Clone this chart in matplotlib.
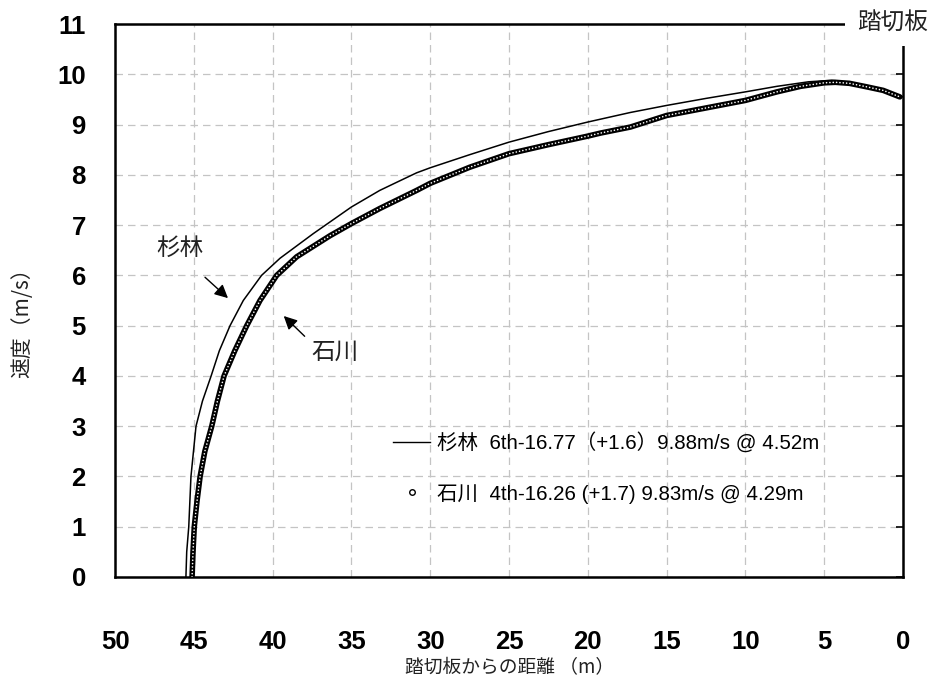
import matplotlib
matplotlib.use("Agg")
import matplotlib.pyplot as plt
from matplotlib.lines import Line2D
from matplotlib.font_manager import FontProperties

# ---------------- data ----------------
sugi_dist = [45.50, 45.45, 45.32, 45.18, 44.86, 44.45, 43.90, 43.38, 42.70, 41.86,
             40.70, 39.53, 37.42, 35.00, 33.20, 32.00, 30.86, 30.00, 27.50, 25.00,
             22.50, 20.00, 17.30, 15.00, 12.50, 10.00, 8.00, 6.00, 4.52, 3.40,
             2.30, 1.26, 0.00]
sugi_speed = [0.00, 0.50, 1.00, 2.00, 3.00, 3.50, 4.00, 4.50, 5.00, 5.50,
              6.00, 6.34, 6.83, 7.36, 7.69, 7.87, 8.04, 8.14, 8.40, 8.65,
              8.86, 9.05, 9.24, 9.38, 9.52, 9.65, 9.76, 9.85, 9.88, 9.84,
              9.76, 9.68, 9.55]

ishi_dist = [45.11, 45.05, 44.97, 44.80, 44.60, 44.30, 43.86, 43.50, 43.08, 42.40,
             41.64, 40.80, 39.74, 38.47, 36.35, 35.00, 33.20, 30.86, 30.00, 27.50,
             25.00, 22.50, 20.00, 19.20, 17.30, 15.00, 12.50, 10.00, 8.00, 6.50,
             5.00, 4.29, 3.40, 2.30, 1.26, 0.20]
ishi_speed = [0.00, 0.50, 1.00, 1.50, 2.00, 2.50, 3.00, 3.50, 4.00, 4.50,
              5.00, 5.50, 6.00, 6.37, 6.79, 7.03, 7.33, 7.69, 7.83, 8.15,
              8.42, 8.60, 8.77, 8.83, 8.95, 9.18, 9.33, 9.48, 9.65, 9.76,
              9.83, 9.84, 9.82, 9.75, 9.68, 9.55]

x_ticks = [50, 45, 40, 35, 30, 25, 20, 15, 10, 5, 0]
y_ticks = list(range(0, 12))

label_sugi = "杉林  6th-16.77（+1.6）9.88m/s @ 4.52m"
label_ishi = "石川  4th-16.26 (+1.7) 9.83m/s @ 4.29m"

# ---------------- figure ----------------
cjk = ['Noto Sans CJK JP', 'DejaVu Sans']
mixed = ['Liberation Sans', 'Noto Sans CJK JP']
plt.rcParams['font.family'] = cjk

fig = plt.figure(figsize=(9.33, 6.82), dpi=100)
ax = fig.add_axes([115/933, 1-577/682, 788/933, 553/682])

ax.set_xlim(50, 0)
ax.set_ylim(0, 11)
ax.set_xticks(x_ticks)
ax.set_yticks(y_ticks)
ax.set_xticklabels([str(t) for t in x_ticks])
ax.set_yticklabels([str(t) for t in y_ticks])
for lab in ax.get_xticklabels() + ax.get_yticklabels():
    lab.set_fontfamily('Liberation Sans')
    lab.set_fontweight('bold')
    lab.set_fontsize(18.5)
ax.tick_params(axis='x', length=0, pad=38)
ax.tick_params(axis='y', which='both', left=False, right=True, direction='in',
               length=5, width=1.2, pad=21)

ax.grid(True, color='#c4c4c4', linestyle=(0, (6, 4)), linewidth=0.9)
ax.set_axisbelow(True)
for s in ax.spines.values():
    s.set_linewidth(1.8)
    s.set_color('black')

# Sugibayashi: thin line
ax.plot(sugi_dist, sugi_speed, color='black', lw=1.1, zorder=3)

# Ishikawa: chain of small open circles
ax.plot(ishi_dist, ishi_speed, color='black', lw=4.0, solid_capstyle='round',
        solid_joinstyle='round', zorder=4)
ax.plot(ishi_dist, ishi_speed, color='white', lw=1.2,
        linestyle=(0, (0.01, 2.0)), dash_capstyle='round', zorder=5)

# annotations
ax.annotate('', xy=(42.70, 5.51), xytext=(44.42, 6.00),
            arrowprops=dict(arrowstyle='-|>', color='black', lw=1.0,
                            mutation_scale=20))
ax.text(45.9, 6.54, '杉林', fontsize=17, ha='center', va='center', color='#222222')
ax.annotate('', xy=(39.42, 5.23), xytext=(37.84, 4.75),
            arrowprops=dict(arrowstyle='-|>', color='black', lw=1.0,
                            mutation_scale=20))
ax.text(36.04, 4.47, '石川', fontsize=17, ha='center', va='center', color='#222222')

# legend
handles = [Line2D([], [], color='black', lw=1.0),
           Line2D([], [], color='black', marker='o', mfc='white', mec='black',
                  mew=1.0, ms=4, ls='none')]
leg = ax.legend(handles, [label_sugi, label_ishi], loc='upper left',
                bbox_to_anchor=(0.353, 0.262), frameon=False,
                prop=FontProperties(family=mixed, size=14.8),
                handlelength=1.8, handletextpad=0.35, labelspacing=1.5,
                borderaxespad=0, borderpad=0)

# take-off board label over the corner
fig.text(892/933, 1-23/682, '踏切板', fontsize=17, ha='center', va='center',
         color='#222222',
         bbox=dict(boxstyle='square,pad=0.5', fc='white', ec='none'), zorder=10)

fig.text(510/933, 1-668/682, '踏切板からの距離 （m）', fontsize=13.5,
         ha='center', va='center', color='#222222')
fig.text(22/933, 1-318/682, '速度（m/s）', fontsize=15, rotation=90,
         ha='center', va='center', color='#222222')

fig.savefig('out.png', dpi=100)
